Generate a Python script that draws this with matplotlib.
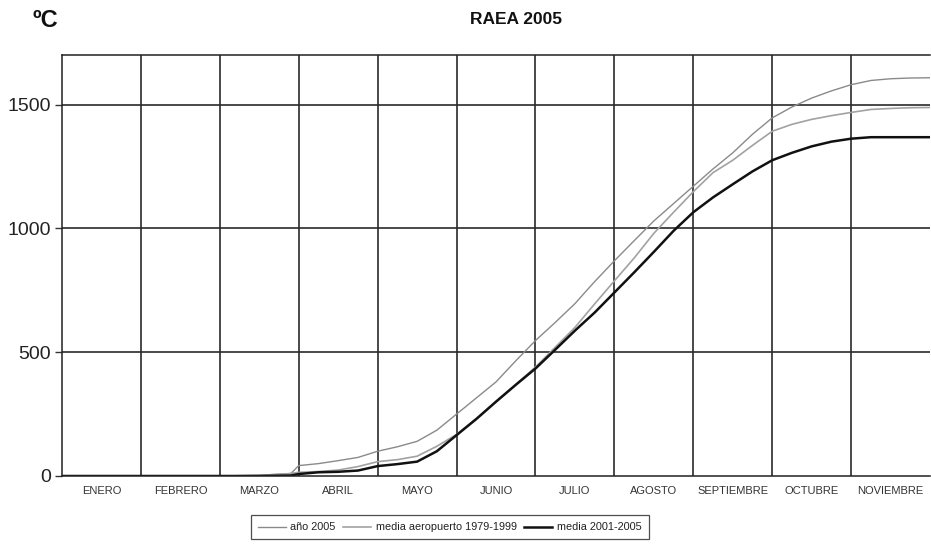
import numpy as np
import matplotlib.pyplot as plt

plt.rcParams['font.family'] = ['Liberation Sans', 'DejaVu Sans']

# eje x en meses (0 = 1 de enero, 11 = fin de noviembre)
meses = ["ENERO", "FEBRERO", "MARZO", "ABRIL", "MAYO", "JUNIO", "JULIO",
         "AGOSTO", "SEPTIEMBRE", "OCTUBRE", "NOVIEMBRE"]

t = [0, 1, 2, 2.5, 2.9, 3.0, 3.25, 3.5, 3.75, 4.0, 4.25, 4.5, 4.75, 5.0,
     5.25, 5.5, 5.75, 6.0, 6.25, 6.5, 6.75, 7.0, 7.25, 7.5, 7.75, 8.0,
     8.25, 8.5, 8.75, 9.0, 9.25, 9.5, 9.75, 10.0, 10.25, 10.5, 10.75, 11.0]

# grados-día acumulados (ºC)
anio_2005 = [0, 0, 0, 3, 10, 42, 50, 62, 75, 100, 118, 140, 185, 250,
             315, 380, 465, 547, 620, 696, 785, 869, 950, 1030, 1100, 1170,
             1240, 1305, 1380, 1446, 1490, 1526, 1555, 1580, 1597, 1604, 1607, 1608]
media_aerop = [0, 0, 0, 2, 10, 15, 18, 24, 38, 58, 66, 80, 120, 168,
               232, 302, 370, 440, 520, 600, 695, 788, 880, 980, 1065, 1148,
               1225, 1275, 1335, 1392, 1420, 1440, 1455, 1468, 1480, 1484, 1487, 1488]
media_0105 = [0, 0, 0, 0, 2, 8, 15, 17, 22, 40, 48, 58, 100, 165,
              230, 300, 368, 434, 510, 587, 660, 741, 822, 905, 990, 1065,
              1125, 1178, 1230, 1275, 1305, 1331, 1350, 1362, 1368, 1368, 1368, 1368]

fig = plt.figure(figsize=(9.31, 5.47), dpi=100)
ax = fig.add_axes([0.0666, 0.1298, 0.9324, 0.7697])

ax.plot(t, anio_2005, color='#8a8a8a', lw=1.0, label='año 2005')
ax.plot(t, media_aerop, color='#a2a2a2', lw=1.2, label='media aeropuerto 1979-1999')
ax.plot(t, media_0105, color='#111111', lw=1.8, label='media 2001-2005')

ax.set_xlim(0, 11)
ax.set_ylim(0, 1700)

# rejilla: límites de mes y cada 500 ºC
for m in range(1, 11):
    ax.axvline(m, color='#2a2a2a', lw=1.2, zorder=0)
for v in (500, 1000, 1500):
    ax.axhline(v, color='#2a2a2a', lw=1.2, zorder=0)

ax.set_yticks([0, 500, 1000, 1500])
ax.set_yticklabels(['0', '500', '1000', '1500'], fontsize=14, color='#222222')
ax.tick_params(axis='y', length=5, width=1, color='#333333', pad=3)
ax.set_xticks(np.arange(11) + 0.5)
ax.set_xticklabels(meses, fontsize=8, color='#333333')
ax.tick_params(axis='x', length=0, pad=7)

for s in ax.spines.values():
    s.set_color('#222222')
    s.set_linewidth(1.1)
ax.spines['right'].set_visible(False)

fig.text(0.554, 0.965, 'RAEA 2005', ha='center', va='center',
         fontsize=12.5, fontweight='bold', color='#111111')
fig.text(0.035, 0.962, 'ºC', ha='left', va='center',
         fontsize=17, fontweight='bold', color='#111111')

leg = fig.legend(loc='center', bbox_to_anchor=(0.483, 0.036), ncol=3,
                 fontsize=7.8, frameon=True, fancybox=False, handlelength=2.6,
                 handletextpad=0.4, columnspacing=0.7, borderpad=0.65,
                 borderaxespad=0)
leg.get_frame().set_edgecolor('#222222')
leg.get_frame().set_linewidth(0.9)
for txt in leg.get_texts():
    txt.set_color('#222222')

fig.savefig('out.png', dpi=100)
